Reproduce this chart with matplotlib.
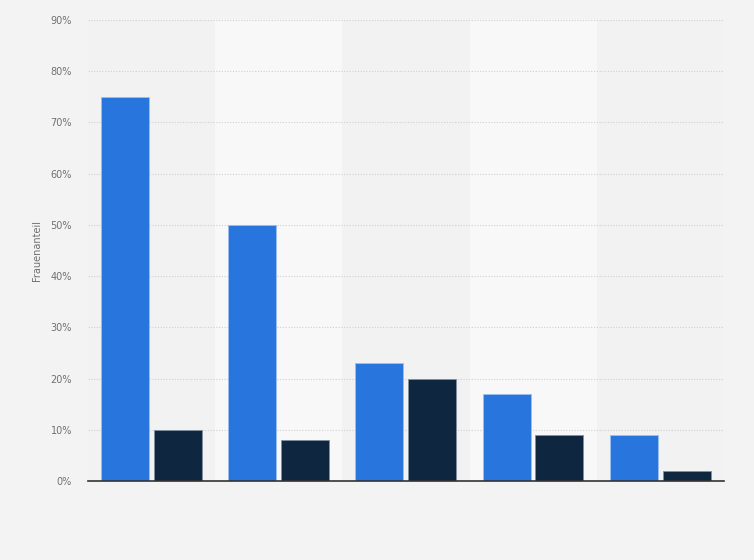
import matplotlib
matplotlib.use("Agg")
import matplotlib.pyplot as plt
import numpy as np

categories = ["1", "2", "3", "4", "5"]
series_a = [75, 50, 23, 17, 9]
series_b = [10, 8, 20, 9, 2]
yticks = [0, 10, 20, 30, 40, 50, 60, 70, 80, 90]
ytick_labels = [f"{v}%" for v in yticks]

fig = plt.figure(figsize=(7.54, 5.6), dpi=100)
fig.patch.set_facecolor("#f3f3f3")
ax = fig.add_axes([88/754, (560-481)/560, (724-88)/754, (481-20)/560])
ax.set_facecolor("#f2f2f2")

x = np.arange(len(categories))
ax.set_xlim(-0.5, len(categories) - 0.5)
ax.set_ylim(0, 90)

for i in x:
    if i % 2 == 1:
        ax.axvspan(i - 0.5, i + 0.5, color="#f8f8f8", zorder=0, lw=0)

w = 0.377
ax.bar(x - 0.209, series_a, width=w, color="#2876dd", edgecolor="#9cc0ee", linewidth=0.6, zorder=3)
ax.bar(x + 0.206, series_b, width=w, color="#0f2640", edgecolor="#8090a0", linewidth=0.6, zorder=3)

ax.set_yticks(yticks)
ax.set_yticklabels(ytick_labels, fontsize=7, color="#707070")
ax.tick_params(axis="y", length=0, pad=11.5)
ax.set_xticks([])
ax.yaxis.grid(True, color="#cfcfcf", linestyle=(0, (1, 1.5)), linewidth=0.8, zorder=1)
ax.set_axisbelow(True)
for s in ["top", "right", "left"]:
    ax.spines[s].set_visible(False)
ax.spines["bottom"].set_color("#333333")
ax.spines["bottom"].set_linewidth(1.2)
ax.spines["bottom"].set_zorder(4)

ax.set_ylabel("Frauenanteil", fontsize=7, color="#707070", labelpad=6)

fig.savefig("out.png", dpi=100, facecolor=fig.get_facecolor())
